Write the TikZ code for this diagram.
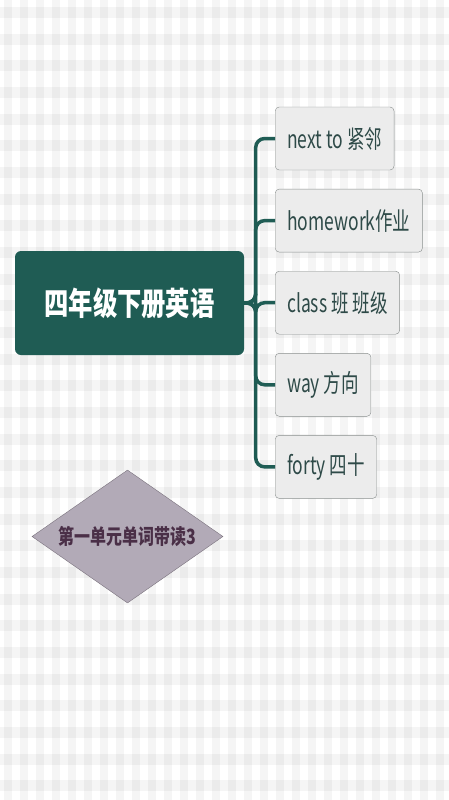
\documentclass[tikz,border=0pt]{standalone}
\usepackage{fontspec}
\newfontfamily\cjk{Noto Sans CJK SC}[FakeStretch=0.76]
\newfontfamily\cjknarrow{Noto Sans CJK SC}[FakeStretch=0.7]
\usetikzlibrary{shapes.geometric}
\definecolor{teal0}{HTML}{1F5C54}
\definecolor{boxgray}{HTML}{ECECEC}
\definecolor{boxline}{HTML}{8A8F8E}
\definecolor{boxtext}{HTML}{2E4A48}
\definecolor{diafill}{HTML}{B2AAB7}
\definecolor{dialine}{HTML}{7A727D}
\definecolor{diatext}{HTML}{4A2F47}
\begin{document}
\begin{tikzpicture}[x=1pt,y=-1pt,
  root/.style={fill=teal0, rounded corners=6pt, minimum width=229pt, minimum height=104pt,
    text=white, font=\cjk\bfseries\fontsize{32}{32}\selectfont},
  word/.style={draw=boxline, fill=boxgray, rounded corners=4pt, minimum height=63pt,
    anchor=west, inner xsep=12pt, text=boxtext, font=\cjknarrow\fontsize{25}{25}\selectfont},
  branch/.style={draw=teal0, line width=3.5pt, rounded corners=9pt},
  lesson/.style={diamond, draw=dialine, fill=diafill, aspect=1.436, inner sep=0pt,
    minimum width=191pt, minimum height=133pt, text=diatext,
    font=\cjk\bfseries\fontsize{21}{21}\selectfont}]
  \useasboundingbox (0,0) rectangle (449,800);
  % checked background
  \fill[white] (0,0) rectangle (449,800);
  \foreach \y in {0,...,29}
    \fill[black, opacity=0.04] (0,7+26.67*\y) rectangle ++(449,11);
  \foreach \x in {0,...,28}
    \fill[black, opacity=0.04] (4+16*\x,0) rectangle ++(8,800);
  % mind map
  \node[root] (root) at (129.5,303) {四年级下册英语};
  \foreach \t [count=\i] in {next to 紧邻, homework作业, class 班 班级, way 方向, forty 四十}
    \node[word] (w\i) at (275,56.4+82.1*\i) {\t};
  \foreach \i in {1,...,5}
    \draw[branch] (root.east) -- ++(11.5,0) |- (w\i.west);
  \node[lesson] (unit) at (127.5,536.5) {第一单元单词带读3};
\end{tikzpicture}
\end{document}
